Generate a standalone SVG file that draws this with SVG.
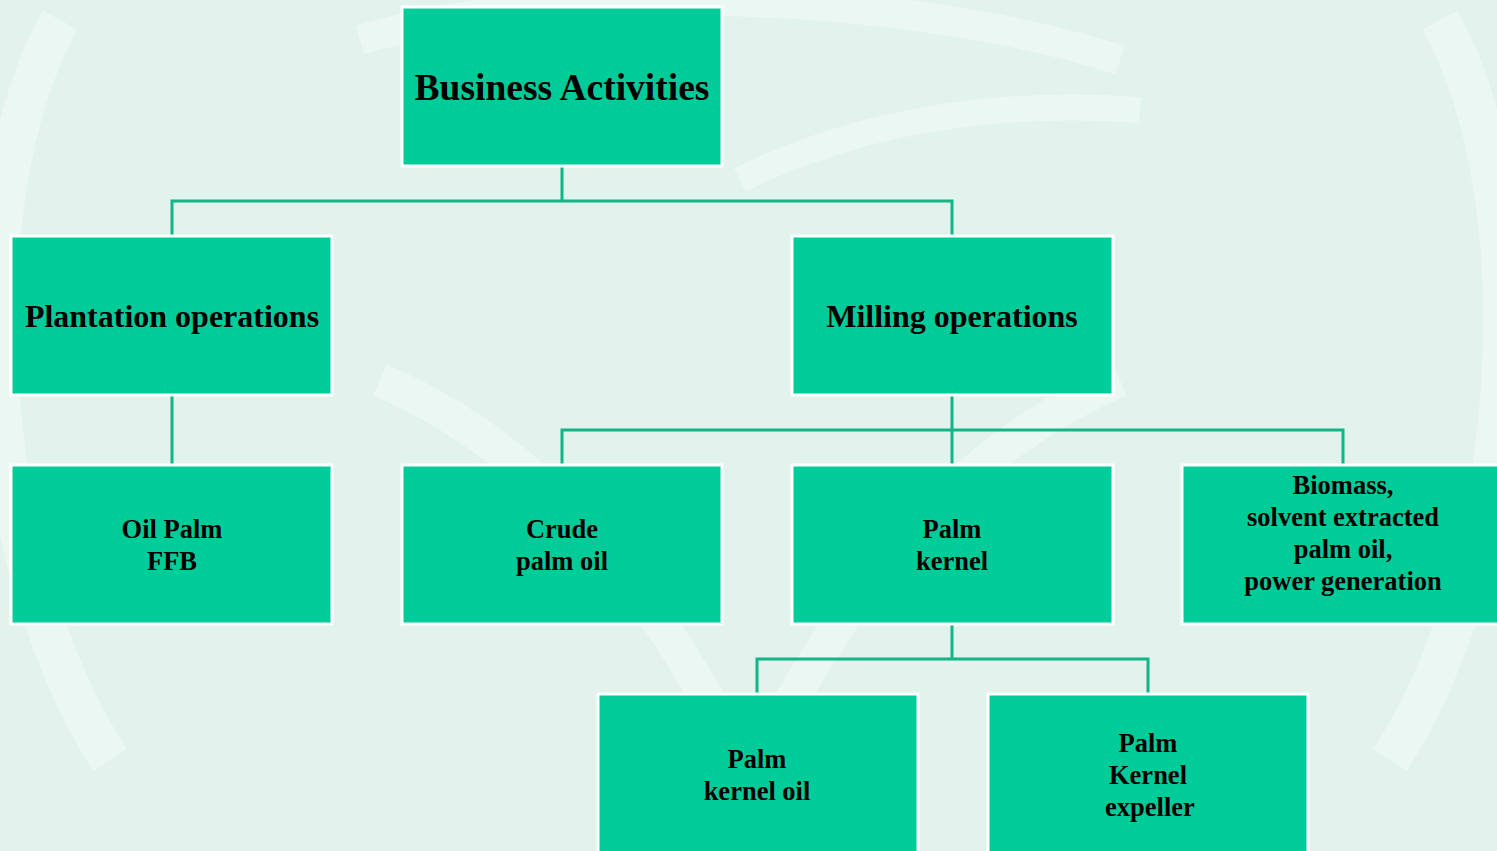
<svg xmlns="http://www.w3.org/2000/svg" width="1497" height="851" viewBox="0 0 1497 851">
<style>
.node rect{fill:#00CC99;stroke:#FFFFFF;stroke-width:3}
.node text{font-family:"Liberation Serif","Times New Roman",serif;font-weight:bold;fill:#000;text-anchor:middle}
.t1{font-size:37.5px}
.t2{font-size:32px}
.t3{font-size:26.5px}
#connectors path{fill:none;stroke:#12B586;stroke-width:3}
.wm{fill:none;stroke:#FFFFFF;stroke-opacity:0.35}
</style>
<rect x="0" y="0" width="1497" height="851" fill="#E1F3EC"/>
<g id="watermark">
<path class="wm" stroke-width="40" d="M60,20 C-40,200 -20,560 110,760"/>
<path class="wm" stroke-width="40" d="M1440,20 C1540,200 1520,560 1390,760"/>
<path class="wm" stroke-width="30" d="M360,40 C560,-20 900,-10 1120,60"/>
<path class="wm" stroke-width="34" d="M380,380 C520,440 640,560 740,760"/>
<path class="wm" stroke-width="34" d="M1120,380 C980,440 860,560 760,760"/>
<path class="wm" stroke-width="26" d="M740,180 C860,120 1000,100 1140,110"/>
</g>
<g id="connectors">
<path d="M562,167 V201 M172,237 V201 H952 V237"/>
<path d="M172,396 V464"/>
<path d="M952,396 V430 M562,464 V430 H1343 V464 M952,430 V464"/>
<path d="M952,625 V659 M757,693 V659 H1148 V693"/>
</g>
<g id="n-business" class="node"><rect x="402" y="7" width="320" height="159"/><text class="t1" x="562" y="100">Business Activities</text></g>
<g id="n-plantation" class="node"><rect x="11" y="236" width="321" height="159"/><text class="t2" x="172" y="327">Plantation operations</text></g>
<g id="n-milling" class="node"><rect x="792" y="236" width="321" height="159"/><text class="t2" x="952" y="327">Milling operations</text></g>
<g id="n-ffb" class="node"><rect x="11" y="465" width="321" height="159"/><text class="t3" x="172" y="538">Oil Palm</text><text class="t3" x="172" y="570">FFB</text></g>
<g id="n-cpo" class="node"><rect x="402" y="465" width="320" height="159"/><text class="t3" x="562" y="538">Crude</text><text class="t3" x="562" y="570">palm oil</text></g>
<g id="n-kernel" class="node"><rect x="792" y="465" width="321" height="159"/><text class="t3" x="952" y="538">Palm</text><text class="t3" x="952" y="570">kernel</text></g>
<g id="n-biomass" class="node"><rect x="1182" y="465" width="321" height="159"/><text class="t3" x="1343" y="494">Biomass,</text><text class="t3" x="1343" y="526">solvent extracted</text><text class="t3" x="1343" y="558">palm oil,</text><text class="t3" x="1343" y="590">power generation</text></g>
<g id="n-pko" class="node"><rect x="598" y="694" width="320" height="170"/><text class="t3" x="757" y="768">Palm</text><text class="t3" x="757" y="800">kernel oil</text></g>
<g id="n-pke" class="node"><rect x="988" y="694" width="320" height="170"/><text class="t3" x="1148" y="752">Palm</text><text class="t3" x="1148" y="784">Kernel</text><text class="t3" x="1150" y="816">expeller</text></g>
</svg>
